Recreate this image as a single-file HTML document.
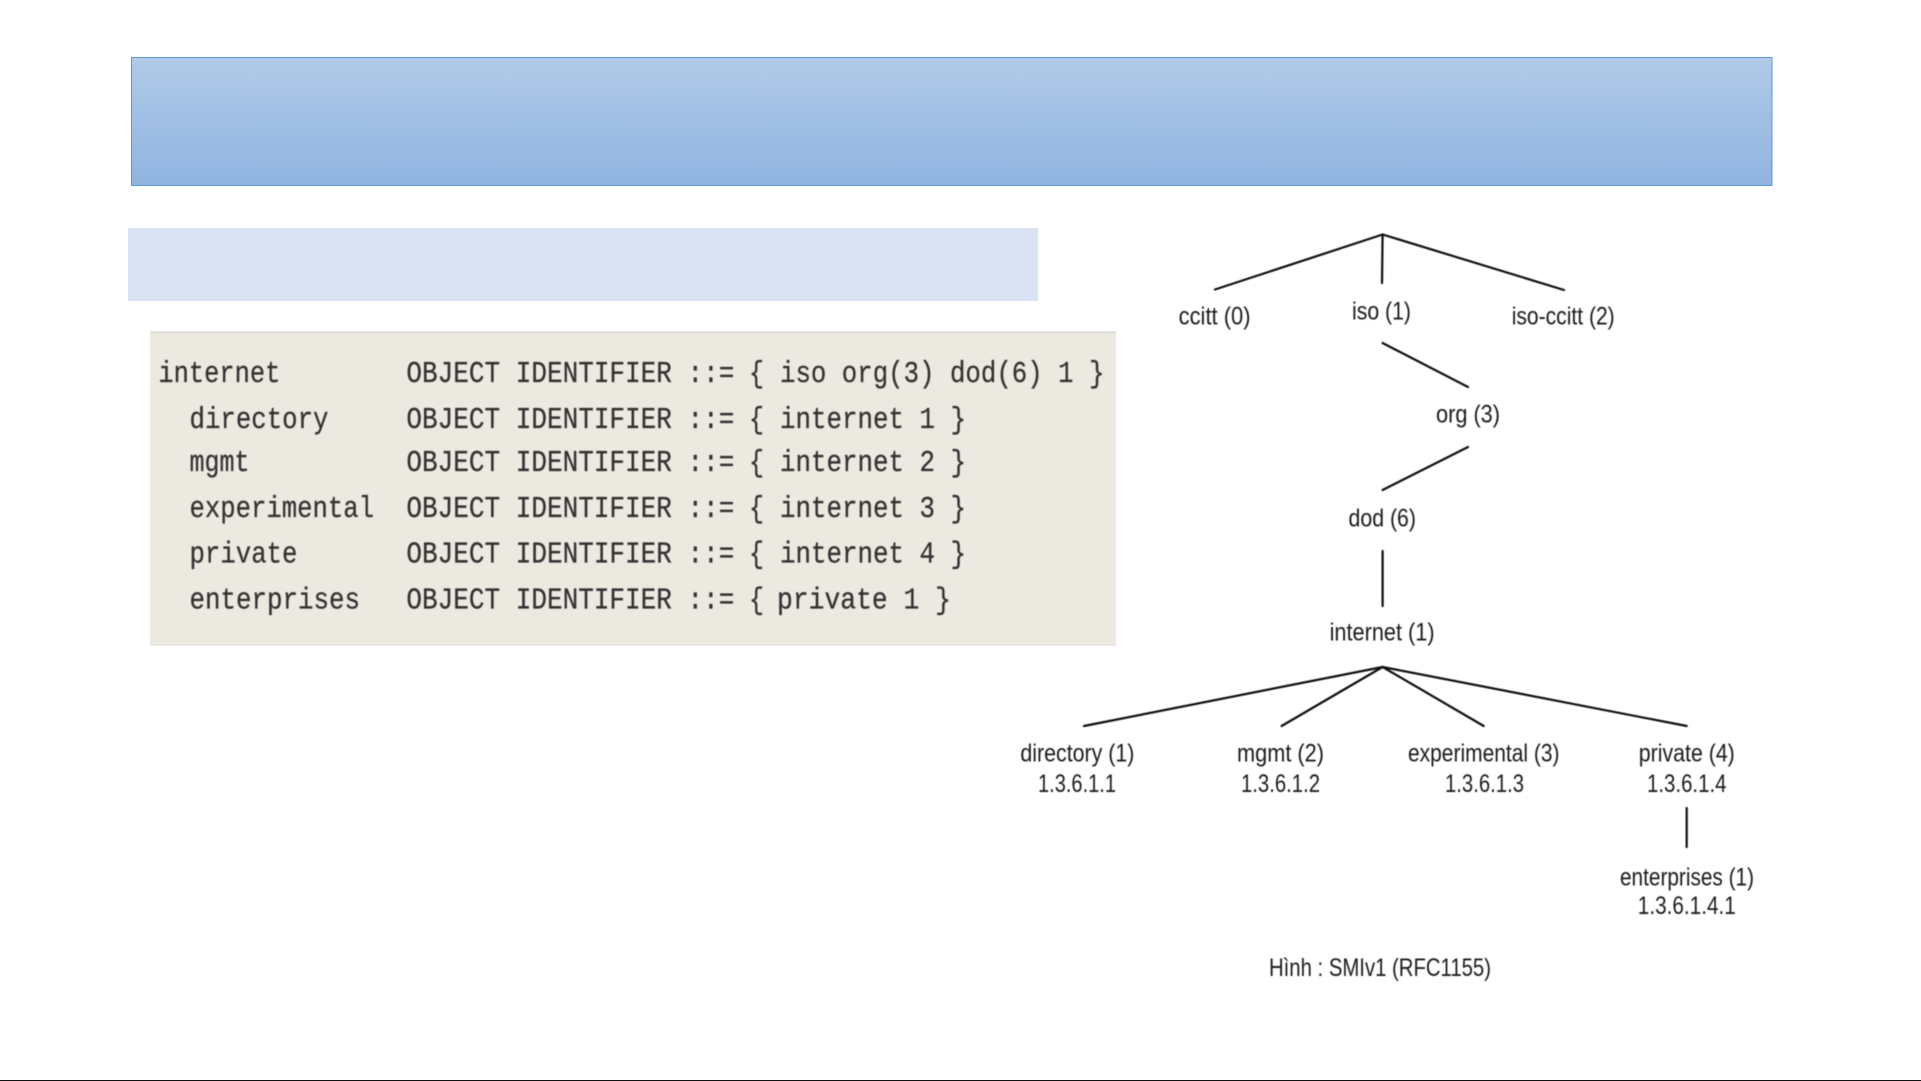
<!DOCTYPE html>
<html><head><meta charset="utf-8"><style>
html,body{margin:0;padding:0;background:#fff;width:1921px;height:1081px;overflow:hidden}
svg{display:block}
.m{font-family:"Liberation Mono",monospace;font-size:31px;fill:#333;stroke:#333;stroke-width:.25}
.t{font-family:"Liberation Sans",sans-serif;font-size:25px;fill:#1a1a1a}
</style></head><body>
<svg width="1921" height="1081" viewBox="0 0 1921 1081" xmlns="http://www.w3.org/2000/svg">
<defs>
<linearGradient id="g" x1="0" y1="0" x2="0" y2="1"><stop offset="0" stop-color="#b1cae8"/><stop offset="1" stop-color="#8fb4e0"/></linearGradient>
<filter id="b" x="-5%" y="-5%" width="110%" height="110%"><feGaussianBlur stdDeviation="0.45"/></filter>
</defs>
<rect x="131.5" y="57.5" width="1640.5" height="128" fill="url(#g)" stroke="#5b9bd5" stroke-width="1"/>
<rect x="128" y="228" width="910" height="73" fill="#dae3f3"/>
<rect x="150" y="331" width="966" height="315" fill="#ece9e0"/>
<rect x="150" y="331" width="966" height="3" fill="#e4e2da"/>
<g filter="url(#b)">
<text class="m" x="158.4" y="382" textLength="122" lengthAdjust="spacingAndGlyphs">internet</text>
<text class="m" x="189.5" y="428" textLength="139" lengthAdjust="spacingAndGlyphs">directory</text>
<text class="m" x="189.5" y="471" textLength="60" lengthAdjust="spacingAndGlyphs">mgmt</text>
<text class="m" x="189.5" y="517" textLength="184.5" lengthAdjust="spacingAndGlyphs">experimental</text>
<text class="m" x="189.5" y="562.6" textLength="108" lengthAdjust="spacingAndGlyphs">private</text>
<text class="m" x="189.5" y="608.4" textLength="170.5" lengthAdjust="spacingAndGlyphs">enterprises</text>

<text class="m" x="406.4" y="382" textLength="328" lengthAdjust="spacingAndGlyphs">OBJECT IDENTIFIER ::=</text>
<text class="m" x="749" y="382" textLength="15" lengthAdjust="spacingAndGlyphs">{</text>
<text class="m" x="780" y="382" textLength="324.5" lengthAdjust="spacingAndGlyphs">iso org(3) dod(6) 1 }</text>

<text class="m" x="406.4" y="428" textLength="328" lengthAdjust="spacingAndGlyphs">OBJECT IDENTIFIER ::=</text>
<text class="m" x="749" y="428" textLength="15" lengthAdjust="spacingAndGlyphs">{</text>
<text class="m" x="780" y="428" textLength="186" lengthAdjust="spacingAndGlyphs">internet 1 }</text>

<text class="m" x="406.4" y="471" textLength="328" lengthAdjust="spacingAndGlyphs">OBJECT IDENTIFIER ::=</text>
<text class="m" x="749" y="471" textLength="15" lengthAdjust="spacingAndGlyphs">{</text>
<text class="m" x="780" y="471" textLength="186" lengthAdjust="spacingAndGlyphs">internet 2 }</text>

<text class="m" x="406.4" y="517" textLength="328" lengthAdjust="spacingAndGlyphs">OBJECT IDENTIFIER ::=</text>
<text class="m" x="749" y="517" textLength="15" lengthAdjust="spacingAndGlyphs">{</text>
<text class="m" x="780" y="517" textLength="186" lengthAdjust="spacingAndGlyphs">internet 3 }</text>

<text class="m" x="406.4" y="562.6" textLength="328" lengthAdjust="spacingAndGlyphs">OBJECT IDENTIFIER ::=</text>
<text class="m" x="749" y="562.6" textLength="15" lengthAdjust="spacingAndGlyphs">{</text>
<text class="m" x="780" y="562.6" textLength="186" lengthAdjust="spacingAndGlyphs">internet 4 }</text>

<text class="m" x="406.4" y="608.4" textLength="328" lengthAdjust="spacingAndGlyphs">OBJECT IDENTIFIER ::=</text>
<text class="m" x="749" y="608.4" textLength="15" lengthAdjust="spacingAndGlyphs">{</text>
<text class="m" x="777" y="608.4" textLength="174" lengthAdjust="spacingAndGlyphs">private 1 }</text>

<g stroke="#111" stroke-width="2.2" fill="none" stroke-linecap="round">
<line x1="1382.6" y1="234.5" x2="1215" y2="289.5"/>
<line x1="1382.6" y1="234.5" x2="1382" y2="283"/>
<line x1="1382.6" y1="234.5" x2="1564" y2="290"/>
<line x1="1382.6" y1="343" x2="1468" y2="387"/>
<line x1="1468" y1="447" x2="1382.6" y2="490"/>
<line x1="1382.6" y1="551" x2="1382.6" y2="606"/>
<line x1="1382.6" y1="667" x2="1084" y2="726"/>
<line x1="1382.6" y1="667" x2="1281.6" y2="726"/>
<line x1="1382.6" y1="667" x2="1483.7" y2="726"/>
<line x1="1382.6" y1="667" x2="1686.7" y2="726"/>
<line x1="1686.7" y1="808" x2="1686.7" y2="847"/>
</g>

<text class="t" x="1178.6" y="324.5" textLength="72" lengthAdjust="spacingAndGlyphs">ccitt (0)</text>
<text class="t" x="1352" y="319.5" textLength="59" lengthAdjust="spacingAndGlyphs">iso (1)</text>
<text class="t" x="1511.7" y="324.5" textLength="103" lengthAdjust="spacingAndGlyphs">iso-ccitt (2)</text>
<text class="t" x="1436" y="422.5" textLength="64" lengthAdjust="spacingAndGlyphs">org (3)</text>
<text class="t" x="1348.5" y="526.5" textLength="67.5" lengthAdjust="spacingAndGlyphs">dod (6)</text>
<text class="t" x="1329.6" y="640.5" textLength="105" lengthAdjust="spacingAndGlyphs">internet (1)</text>
<text class="t" x="1020.4" y="761.5" textLength="114" lengthAdjust="spacingAndGlyphs">directory (1)</text>
<text class="t" x="1038" y="792" textLength="78" lengthAdjust="spacingAndGlyphs">1.3.6.1.1</text>
<text class="t" x="1237" y="761.5" textLength="87" lengthAdjust="spacingAndGlyphs">mgmt (2)</text>
<text class="t" x="1241" y="792" textLength="79" lengthAdjust="spacingAndGlyphs">1.3.6.1.2</text>
<text class="t" x="1408" y="761.5" textLength="151.5" lengthAdjust="spacingAndGlyphs">experimental (3)</text>
<text class="t" x="1445" y="792" textLength="79" lengthAdjust="spacingAndGlyphs">1.3.6.1.3</text>
<text class="t" x="1638.8" y="761.5" textLength="96" lengthAdjust="spacingAndGlyphs">private (4)</text>
<text class="t" x="1647" y="792" textLength="79.5" lengthAdjust="spacingAndGlyphs">1.3.6.1.4</text>
<text class="t" x="1620" y="885.5" textLength="134" lengthAdjust="spacingAndGlyphs">enterprises (1)</text>
<text class="t" x="1637.8" y="914" textLength="98" lengthAdjust="spacingAndGlyphs">1.3.6.1.4.1</text>
<text class="t" x="1269" y="976" textLength="222" lengthAdjust="spacingAndGlyphs">Hình : SMIv1 (RFC1155)</text>
</g>
<rect x="0" y="1080" width="1921" height="1" fill="#111"/>
</svg>
</body></html>
